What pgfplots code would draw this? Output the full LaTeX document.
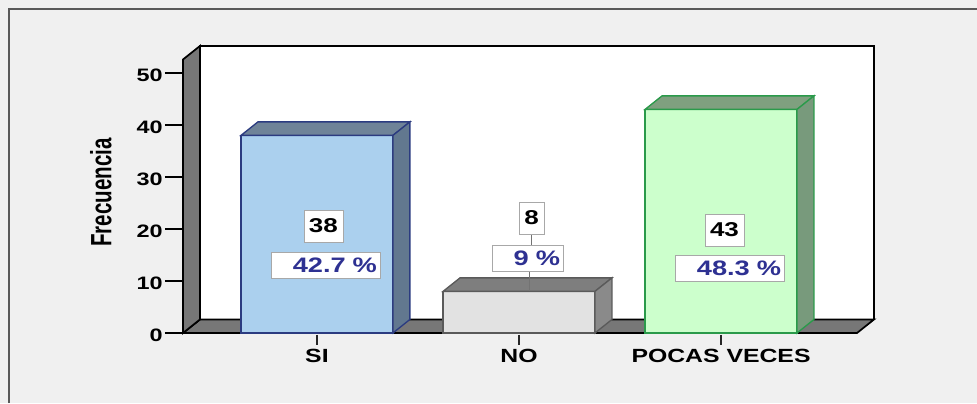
\documentclass[border=0pt]{standalone}
\usepackage{graphicx}
\usepackage{pgfplots}
\pgfplotsset{compat=1.18}
\usepackage{fontspec}
\setmainfont{Liberation Sans}
\newfontfamily\wide{Liberation Sans}[FakeStretch=1.3]

\definecolor{bg}{HTML}{F0F0F0}
\definecolor{wallgray}{HTML}{777777}
\definecolor{siface}{HTML}{ABD0EE}
\definecolor{siedge}{HTML}{2B3B80}
\definecolor{sitop}{HTML}{6F8398}
\definecolor{siside}{HTML}{62788F}
\definecolor{noface}{HTML}{E2E2E2}
\definecolor{noedge}{HTML}{5A5A5A}
\definecolor{notop}{HTML}{7E7E7E}
\definecolor{noside}{HTML}{8A8A8A}
\definecolor{poface}{HTML}{CCFFCC}
\definecolor{poedge}{HTML}{2A9A4A}
\definecolor{potop}{HTML}{7FA07F}
\definecolor{poside}{HTML}{789A7C}
\definecolor{pct}{HTML}{2E3192}
\definecolor{boxedge}{HTML}{A8A8A8}

\begin{document}
\begin{tikzpicture}
\fill[bg] (0,0) rectangle (732.75pt,302.25pt);
\useasboundingbox (0,0) rectangle (732.75pt,302.25pt);
\draw[line width=1.5pt, color=black!65] (6.75pt,0) -- (6.75pt,295.5pt) -- (732.75pt,295.5pt);
\begin{axis}[
  at={(137.25pt,52.5pt)}, anchor=south west,
  scale only axis, width=505.5pt, height=205.14pt,
  xmin=-0.663, xmax=2.673, ymin=0, ymax=52.6,
  clip=false,
  axis line style={draw=none},
  axis x line*=bottom, axis y line*=left,
  ytick={0,10,20,30,40,50},
  xtick={0,1,2}, xticklabels={SI,NO,POCAS VECES},
  xtick style={draw=none},
  ytick style={black, line width=1.5pt},
  tick align=outside,
  major tick length=13.5pt,
  /pgf/number format/assume math mode=true,
  yticklabel style={font=\wide\bfseries\fontsize{13.5}{16}\selectfont, inner sep=1.5pt, yshift=-2pt},
  xticklabel style={font=\wide\bfseries\fontsize{14.3}{17}\selectfont, yshift=5pt},
]
% back wall
\addplot[fill=white, draw=black, line width=1.3pt] coordinates {(-0.579,2.6) (2.757,2.6) (2.757,55.2) (-0.579,55.2)} -- cycle;
% floor
\addplot[fill=wallgray, draw=black, line width=1.3pt] coordinates {(-0.663,0) (2.673,0) (2.757,2.6) (-0.579,2.6)} -- cycle;
% left wall
\addplot[fill=wallgray, draw=black, line width=1.3pt] coordinates {(-0.663,0) (-0.663,52.6) (-0.579,55.2) (-0.579,2.6)} -- cycle;

% SI
\addplot[ybar, bar width=0.753, bar shift=0pt, fill=siface, draw=siedge, line width=1pt] coordinates {(0,38)};
\addplot[fill=sitop, draw=siedge, line width=1pt] coordinates {(-0.376,38) (0.376,38) (0.46,40.6) (-0.292,40.6)} -- cycle;
\addplot[fill=siside, draw=siedge, line width=1pt] coordinates {(0.376,0) (0.46,2.6) (0.46,40.6) (0.376,38)} -- cycle;
% NO
\addplot[ybar, bar width=0.753, bar shift=0pt, fill=noface, draw=noedge, line width=1pt] coordinates {(1,8)};
\addplot[fill=notop, draw=noedge, line width=1pt] coordinates {(0.624,8) (1.376,8) (1.46,10.6) (0.708,10.6)} -- cycle;
\addplot[fill=noside, draw=noedge, line width=1pt] coordinates {(1.376,0) (1.46,2.6) (1.46,10.6) (1.376,8)} -- cycle;
% POCAS VECES
\addplot[ybar, bar width=0.753, bar shift=0pt, fill=poface, draw=poedge, line width=1pt] coordinates {(2,43)};
\addplot[fill=potop, draw=poedge, line width=1pt] coordinates {(1.624,43) (2.376,43) (2.46,45.6) (1.708,45.6)} -- cycle;
\addplot[fill=poside, draw=poedge, line width=1pt] coordinates {(2.376,0) (2.46,2.6) (2.46,45.6) (2.376,43)} -- cycle;

% x ticks
\draw[line width=1.5pt, black!85] ([yshift=-1.5pt]axis cs:0,0) -- ([yshift=-9pt]axis cs:0,0);
\draw[line width=1.5pt, black!85] ([yshift=-1.5pt]axis cs:1,0) -- ([yshift=-9pt]axis cs:1,0);
\draw[line width=1.5pt, black!85] ([yshift=-1.5pt]axis cs:2,0) -- ([yshift=-9pt]axis cs:2,0);

% connectors for NO
\draw[line width=0.8pt, black!55] (axis cs:1.063,19.04) -- (axis cs:1.063,16.73);
\draw[line width=0.8pt, black!55] (axis cs:1.05,11.92) -- (axis cs:1.05,8);

% value labels
\tikzset{numbox/.style={draw=boxedge, fill=white, inner sep=0pt, minimum height=24pt, font=\wide\bfseries\fontsize{15}{18}\selectfont},
         pctbox/.style={draw=boxedge, fill=white, inner xsep=2.25pt, inner ysep=0pt, align=right, minimum height=19.3pt, text=pct, font=\wide\bfseries\fontsize{15.7}{18}\selectfont}}
\node[numbox, minimum width=29.25pt] at (axis cs:0.032,20.58) {38};
\node[pctbox, text width=77.25pt] at (axis cs:0.042,13.08) {42.7 \%};
\node[numbox, minimum width=18.75pt] at (axis cs:1.062,22.1) {8};
\node[pctbox, text width=48.75pt] at (axis cs:1.042,14.33) {9 \%};
\node[numbox, minimum width=29.25pt] at (axis cs:2.017,19.8) {43};
\node[pctbox, text width=77.25pt] at (axis cs:2.042,12.5) {48.3 \%};

% axis title
\node[rotate=90, font=\bfseries\fontsize{15.4}{18}\selectfont] at (axis cs:-1.069,27.0) {\scalebox{1}[1.43]{Frecuencia}};
\end{axis}
\end{tikzpicture}
\end{document}
